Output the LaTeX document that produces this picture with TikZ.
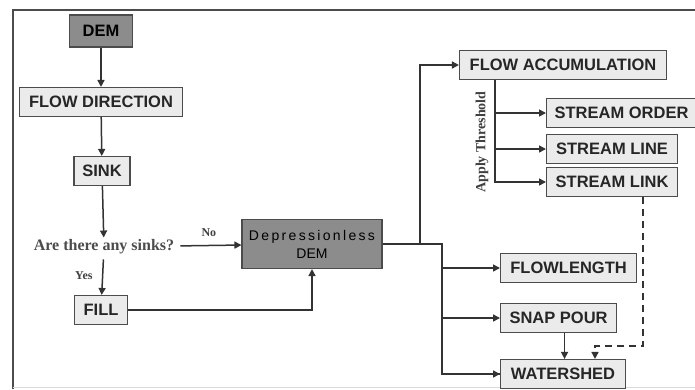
\documentclass[tikz,border=0pt]{standalone}
\usepackage{fontspec}
\setmainfont{Liberation Serif}
\setsansfont{Liberation Sans}
\usetikzlibrary{arrows.meta, positioning}

\begin{document}
\begin{tikzpicture}[
    x=1pt, y=-1pt,
    box/.style={draw=black!70, line width=1.1pt, fill=black!8, minimum height=29pt,
                inner sep=1pt, text=black!85,
                font=\sffamily\bfseries\fontsize{16.5}{18}\selectfont},
    boxdark/.style={box, fill=black!45, text=black},
    ask/.style={font=\rmfamily\bfseries\fontsize{16}{18}\selectfont, text=black!70,
                inner sep=2pt},
    tag/.style={font=\rmfamily\bfseries\fontsize{12}{13}\selectfont, text=black!75},
    arr/.style={draw=black!80, line width=1.5pt, -{Triangle[length=7pt, width=7pt]}},
    link/.style={draw=black!80, line width=1.5pt}
  ]
  \useasboundingbox (0,0) rectangle (695,389);

  % frame
  \draw[black!70, line width=1.5pt] (13,389) -- (13,10) -- (695,10);
  \draw[black!15, line width=0.8pt] (13,387) -- (695,387);

  % left column
  \node[boxdark, minimum width=63pt, minimum height=32pt] (dem) at (101,31) {DEM};
  \node[box, minimum width=163pt] (fdir) at (101,102) {FLOW DIRECTION};
  \node[box, minimum width=56pt] (sink) at (102,171) {SINK};
  \node[ask] (sinks) at (104,247) {Are there any sinks?};
  \node[box, minimum width=53pt] (fill) at (101,310) {FILL};

  \node[boxdark, minimum width=140pt, minimum height=49pt, align=center,
        font=\sffamily\fontsize{14}{18}\selectfont] (dless) at (312,244)
        {D\,e\,p\,r\,e\,s\,s\,i\,o\,n\,l\,e\,s\,s\\DEM};

  % right side
  \node[box, minimum width=207pt] (facc) at (563,65) {FLOW ACCUMULATION};
  \node[box, anchor=west, minimum width=150pt] (sorder) at (546,113) {STREAM ORDER};
  \node[box, anchor=west, minimum width=131pt] (sline) at (546,149) {STREAM LINE};
  \node[box, anchor=west, minimum width=131pt] (slink) at (546,182) {STREAM LINK};
  \node[box, anchor=west, minimum width=136pt] (flen) at (500,268) {FLOWLENGTH};
  \node[box, anchor=west, minimum width=116pt] (snap) at (500,318) {SNAP POUR};
  \node[box, anchor=west, minimum width=125pt] (wshed) at (500,374) {WATERSHED};

  \node[tag, rotate=90, font=\rmfamily\bfseries\fontsize{14}{15}\selectfont]
        (thresh) at (482,142) {Apply Threshold};

  \coordinate (up) at (420,244);
  \coordinate (split) at (442,244);
  \coordinate (tap) at (495,182);
  \coordinate (dcorner) at (643,346);
  \coordinate (dend) at (595,346);

  % connectors
  \draw[arr] (dem) -- (fdir);
  \draw[arr] (fdir) -- (sink);
  \draw[arr] (sink) -- (sinks);
  \draw[arr, shorten <=4pt] (sinks) -- node[tag, above=5pt] {No} (dless);
  \draw[arr, shorten <=3pt] (sinks) -- node[tag, left=6pt] {Yes} (fill);
  \draw[arr] (fill) -| (dless);

  \draw[link] (dless) -- (split) |- (wshed.west);
  \draw[arr] (up) |- (facc);
  \draw[arr] (split) |- (flen);
  \draw[arr] (split) |- (snap);
  \draw[arr] (split) |- (wshed);

  \draw[link] (facc.south -| tap) -- (tap);
  \draw[arr] (facc.south -| tap) |- (sorder);
  \draw[arr] (facc.south -| tap) |- (sline);
  \draw[arr] (facc.south -| tap) |- (slink);

  \draw[arr] ([xshift=6pt]snap.south) -- ([xshift=6pt]snap.south |- wshed.north);
  \draw[arr, dashed, dash pattern=on 7pt off 5pt]
    (slink.south -| dcorner) -- (dcorner) -- (dend) -- (dend |- wshed.north);
\end{tikzpicture}
\end{document}
